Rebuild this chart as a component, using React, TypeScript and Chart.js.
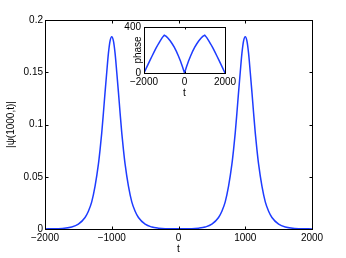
import React, { useEffect, useRef } from 'react';
import { Chart, registerables } from 'chart.js';

Chart.register(...registerables);

// ---- data ----
const tMain = [
  -2000, -1800, -1600, -1500, -1400, -1350, -1300, -1250, -1200, -1175, -1150, -1125, -1100, -1075, -1050, -1025,
  -1000, -975, -950, -925, -900, -875, -850, -825, -800, -750, -700, -650, -600, -500, -400, -300, -200,
  0,
  200, 300, 400, 500, 600, 650, 700, 750, 800, 825, 850, 875, 900, 925, 950, 975,
  1000, 1025, 1050, 1075, 1100, 1125, 1150, 1175, 1200, 1250, 1300, 1350, 1400, 1500, 1600, 1800, 2000,
];
const psiAbs = [
  0.0001, 0.0003, 0.0019, 0.0046, 0.011, 0.017, 0.026, 0.041, 0.062, 0.076, 0.092, 0.111, 0.131, 0.150, 0.168, 0.180,
  0.184, 0.180, 0.168, 0.150, 0.131, 0.111, 0.092, 0.076, 0.062, 0.041, 0.026, 0.017, 0.011, 0.0046, 0.0019, 0.0008, 0.0003,
  0.0002,
  0.0003, 0.0008, 0.0019, 0.0046, 0.011, 0.017, 0.026, 0.041, 0.062, 0.076, 0.092, 0.111, 0.131, 0.150, 0.168, 0.180,
  0.184, 0.180, 0.168, 0.150, 0.131, 0.111, 0.092, 0.076, 0.062, 0.041, 0.026, 0.017, 0.011, 0.0046, 0.0019, 0.0003, 0.0001,
];
const mainXTicks = [-2000, -1000, 0, 1000, 2000];
const mainYTicks = [0, 0.05, 0.1, 0.15, 0.2];

const tPhase = [
  -2000, -1900, -1800, -1700, -1600, -1500, -1400, -1300, -1200, -1100, -1000, -900, -800, -700, -600, -500, -400, -300, -200, -100,
  0, 100, 200, 300, 400, 500, 600, 700, 800, 900, 1000, 1100, 1200, 1300, 1400, 1500, 1600, 1700, 1800, 1900, 2000,
];
const phaseValues = [
  0, 38, 75, 112, 148, 184, 218, 250, 280, 308, 328, 318, 300, 278, 252, 222, 188, 148, 104, 55,
  0, 55, 104, 148, 188, 222, 252, 278, 300, 318, 328, 308, 280, 250, 218, 184, 148, 112, 75, 38, 0,
];
const insetXTicks = [-2000, 0, 2000];
const insetYTicks = [0, 400];

const FONT_FAMILY = "'Liberation Sans', Arial, Helvetica, sans-serif";
const LINE_COLOR = 'rgb(30,60,255)';

const fmt = (v: number) => (v < 0 ? '\u2212' + String(-v) : String(v));

function boxPlugin(tickLen: number, whiteFill: boolean) {
  return {
    id: 'matlabBox',
    beforeDraw(chart: any) {
      if (!whiteFill) return;
      const { ctx, chartArea } = chart;
      ctx.save();
      ctx.fillStyle = '#fff';
      ctx.fillRect(chartArea.left, chartArea.top, chartArea.right - chartArea.left, chartArea.bottom - chartArea.top);
      ctx.restore();
    },
    afterDraw(chart: any) {
      const { ctx, chartArea } = chart;
      const l = Math.round(chartArea.left) + 0.5;
      const r = Math.round(chartArea.right) + 0.5;
      const t = Math.round(chartArea.top) + 0.5;
      const b = Math.round(chartArea.bottom) + 0.5;
      const xs = chart.scales.x;
      const ys = chart.scales.y;
      ctx.save();
      ctx.strokeStyle = '#000';
      ctx.lineWidth = 1;
      ctx.strokeRect(l, t, r - l, b - t);
      ctx.beginPath();
      xs.ticks.forEach((tk: any) => {
        const px = Math.round(xs.getPixelForValue(tk.value)) + 0.5;
        ctx.moveTo(px, b);
        ctx.lineTo(px, b - tickLen);
        ctx.moveTo(px, t);
        ctx.lineTo(px, t + tickLen);
      });
      ys.ticks.forEach((tk: any) => {
        const py = Math.round(ys.getPixelForValue(tk.value)) + 0.5;
        ctx.moveTo(l, py);
        ctx.lineTo(l + tickLen, py);
        ctx.moveTo(r, py);
        ctx.lineTo(r - tickLen, py);
      });
      ctx.stroke();
      ctx.restore();
    },
  };
}

export default function App() {
  const mainRef = useRef<HTMLCanvasElement>(null);
  const insetRef = useRef<HTMLCanvasElement>(null);

  useEffect(() => {
    const font = { family: FONT_FAMILY, size: 10 };
    const main = new Chart(mainRef.current as HTMLCanvasElement, {
      type: 'line',
      data: {
        datasets: [
          {
            data: tMain.map((t, i) => ({ x: t, y: psiAbs[i] })),
            borderColor: LINE_COLOR,
            borderWidth: 1.5,
            pointRadius: 0,
            fill: false,
            cubicInterpolationMode: 'monotone',
          },
        ],
      },
      options: {
        animation: false,
        responsive: false,
        events: [],
        layout: { padding: { top: 20, right: 34, left: 0, bottom: 0 } },
        plugins: { legend: { display: false }, tooltip: { enabled: false } },
        scales: {
          x: {
            type: 'linear',
            min: -2000,
            max: 2000,
            grid: { display: false, drawTicks: false },
            border: { display: false },
            afterBuildTicks: (s: any) => {
              s.ticks = mainXTicks.map((v) => ({ value: v }));
            },
            afterFit: (s: any) => {
              s.height = 29;
            },
            ticks: { font, color: '#000', padding: 3, maxRotation: 0, autoSkip: false, callback: (v: any) => fmt(Number(v)) },
            title: { display: true, text: 't', font, color: '#000', padding: { top: 0, bottom: 3 } },
          },
          y: {
            type: 'linear',
            min: 0,
            max: 0.2,
            grid: { display: false, drawTicks: false },
            border: { display: false },
            afterBuildTicks: (s: any) => {
              s.ticks = mainYTicks.map((v) => ({ value: v }));
            },
            afterFit: (s: any) => {
              s.width = 45;
            },
            ticks: { font, color: '#000', padding: 2, autoSkip: false, callback: (v: any) => fmt(Number(v)) },
            title: { display: true, text: '|\u03c8(1000,t)|', font, color: '#000', padding: { top: 5, bottom: 0 } },
          },
        },
      },
      plugins: [boxPlugin(3, false)],
    } as any);

    const inset = new Chart(insetRef.current as HTMLCanvasElement, {
      type: 'line',
      data: {
        datasets: [
          {
            data: tPhase.map((t, i) => ({ x: t, y: phaseValues[i] })),
            borderColor: LINE_COLOR,
            borderWidth: 1.5,
            pointRadius: 0,
            fill: false,
            tension: 0,
          },
        ],
      },
      options: {
        animation: false,
        responsive: false,
        events: [],
        layout: { padding: { top: 8, right: 15, left: 0, bottom: 0 } },
        plugins: { legend: { display: false }, tooltip: { enabled: false } },
        scales: {
          x: {
            type: 'linear',
            min: -2000,
            max: 2000,
            grid: { display: false, drawTicks: false },
            border: { display: false },
            afterBuildTicks: (s: any) => {
              s.ticks = insetXTicks.map((v) => ({ value: v }));
            },
            afterFit: (s: any) => {
              s.height = 27;
            },
            ticks: { font, color: '#000', padding: 3, maxRotation: 0, autoSkip: false, callback: (v: any) => fmt(Number(v)) },
            title: { display: true, text: 't', font, color: '#000', padding: { top: 0, bottom: 1 } },
          },
          y: {
            type: 'linear',
            min: 0,
            max: 400,
            grid: { display: false, drawTicks: false },
            border: { display: false },
            afterBuildTicks: (s: any) => {
              s.ticks = insetYTicks.map((v) => ({ value: v }));
            },
            afterFit: (s: any) => {
              s.width = 34;
            },
            ticks: { font, color: '#000', padding: 3, autoSkip: false, callback: (v: any) => fmt(Number(v)) },
            title: { display: true, text: 'phase', font, color: '#000', padding: { top: 22, bottom: 0 } },
          },
        },
      },
      plugins: [boxPlugin(2, true)],
    } as any);

    return () => {
      main.destroy();
      inset.destroy();
    };
  }, []);

  return (
    <div style={{ position: 'absolute', left: 0, top: 0, width: 346, height: 258, background: '#fff' }}>
      <canvas ref={mainRef} width={346} height={258} style={{ position: 'absolute', left: 0, top: 0 }} />
      <canvas ref={insetRef} width={130} height={82} style={{ position: 'absolute', left: 110, top: 18 }} />
    </div>
  );
}
